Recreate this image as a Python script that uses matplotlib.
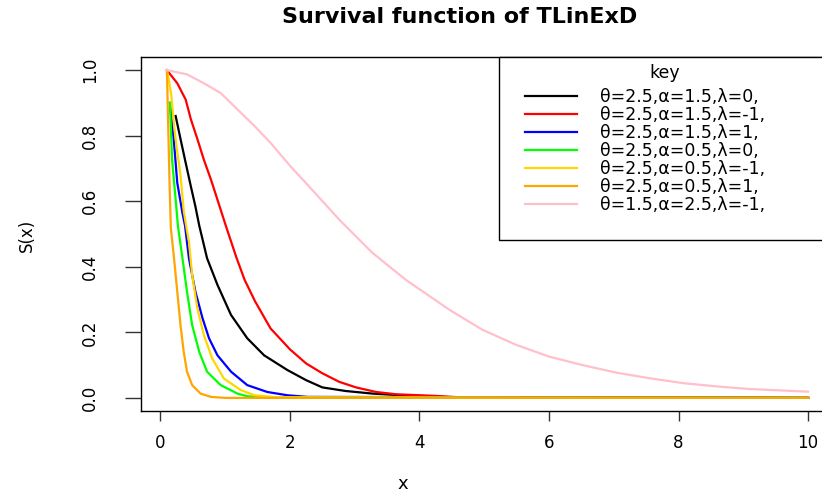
"""
Survival function of TLinExD - seven parameter combinations.
"""

import matplotlib
matplotlib.use("Agg")
import matplotlib.pyplot as plt
from matplotlib.patches import Rectangle

# ── Data ─────────────────────────────────────────────────────────────────────
labels = [
    "θ=2.5,α=1.5,λ=0,",
    "θ=2.5,α=1.5,λ=-1,",
    "θ=2.5,α=1.5,λ=1,",
    "θ=2.5,α=0.5,λ=0,",
    "θ=2.5,α=0.5,λ=-1,",
    "θ=2.5,α=0.5,λ=1,",
    "θ=1.5,α=2.5,λ=-1,",
]
colors = ["black", "red", "blue", "#00FF00", "#FFD700", "#FFA500", "#FFC0CB"]

x_black = [0.235, 0.31, 0.39, 0.47, 0.54, 0.6, 0.72, 0.88, 1.09, 1.34, 1.6, 1.96,
           2.25, 2.5, 2.86, 3.28, 3.9, 4.5, 10]
s_black = [0.86, 0.79, 0.717, 0.645, 0.584, 0.525, 0.426, 0.345, 0.253, 0.182, 0.13, 0.085,
           0.054, 0.032, 0.021, 0.013, 0.006, 0.002, 0]

x_red = [0.1, 0.26, 0.39, 0.47, 0.57, 0.67, 0.78, 0.88, 1.01, 1.17, 1.3, 1.46, 1.7,
         2.0, 2.25, 2.5, 2.76, 3.02, 3.33, 3.64, 4.26, 4.6, 10]
s_red = [1.0, 0.96, 0.91, 0.85, 0.79, 0.727, 0.666, 0.605, 0.525, 0.43, 0.36, 0.295, 0.212,
         0.148, 0.105, 0.075, 0.049, 0.032, 0.018, 0.011, 0.006, 0.002, 0]

x_blue = [0.147, 0.21, 0.26, 0.34, 0.38, 0.44, 0.54, 0.65, 0.75, 0.88, 1.09, 1.34,
          1.65, 1.96, 2.27, 10]
s_blue = [0.9, 0.778, 0.656, 0.564, 0.525, 0.426, 0.324, 0.243, 0.182, 0.13, 0.08, 0.039,
          0.018, 0.008, 0.003, 0]

x_green = [0.147, 0.18, 0.235, 0.27, 0.34, 0.41, 0.49, 0.6, 0.72, 0.93, 1.19, 1.34, 1.7, 10]
s_green = [0.9, 0.727, 0.605, 0.525, 0.426, 0.324, 0.222, 0.14, 0.08, 0.039, 0.013, 0.005,
           0.001, 0]

x_yellow = [0.1, 0.13, 0.17, 0.21, 0.26, 0.31, 0.36, 0.41, 0.44, 0.49, 0.57, 0.67, 0.8,
            0.98, 1.24, 1.45, 1.8, 10]
s_yellow = [1.0, 0.97, 0.92, 0.83, 0.75, 0.68, 0.57, 0.51, 0.477, 0.375, 0.273, 0.192, 0.12,
            0.059, 0.024, 0.008, 0.002, 0]

x_orange = [0.1, 0.12, 0.14, 0.16, 0.21, 0.26, 0.31, 0.36, 0.41, 0.49, 0.62, 0.78, 1.0, 10]
s_orange = [1.0, 0.83, 0.66, 0.52, 0.426, 0.324, 0.222, 0.14, 0.08, 0.039, 0.013, 0.003,
            0.0, 0]

x_pink = [0.1, 0.41, 0.67, 0.93, 1.19, 1.45, 1.7, 2.01, 2.24, 2.76, 3.27, 3.79, 4.46,
          4.97, 5.49, 6.0, 6.52, 7.04, 7.55, 8.07, 8.59, 9.1, 10]
s_pink = [1.0, 0.987, 0.96, 0.93, 0.88, 0.83, 0.778, 0.706, 0.657, 0.544, 0.443, 0.36, 0.269,
          0.208, 0.162, 0.126, 0.10, 0.077, 0.06, 0.045, 0.035, 0.027, 0.019]

xs = [x_black, x_red, x_blue, x_green, x_yellow, x_orange, x_pink]
ss = [s_black, s_red, s_blue, s_green, s_yellow, s_orange, s_pink]

x_ticks = [0, 2, 4, 6, 8, 10]
y_ticks = [0.0, 0.2, 0.4, 0.6, 0.8, 1.0]

# ── Figure ───────────────────────────────────────────────────────────────────
plt.rcParams["font.family"] = "DejaVu Sans"
fig = plt.figure(figsize=(8.22, 4.94), dpi=100)
# axes box runs past the right edge, as in the reference
ax = fig.add_axes([141 / 822, 1 - 411 / 494, 693 / 822, 354 / 494])

for x, s, c, lab in zip(xs, ss, colors, labels):
    ax.plot(x, s, color=c, linewidth=1.6, label=lab, zorder=2)

ax.set_xlim(-0.3, 10.4)
ax.set_ylim(-0.04, 1.04)
ax.set_xticks(x_ticks)
ax.set_xticklabels([str(t) for t in x_ticks])
ax.set_yticks(y_ticks)
ax.set_yticklabels([f"{t:.1f}" for t in y_ticks])

for sp in ax.spines.values():
    sp.set_color("black")
    sp.set_linewidth(1.0)

ax.tick_params(axis="x", direction="out", length=7.2, width=1.0,
               color="#333333", labelsize=12, pad=9)
ax.tick_params(axis="y", direction="out", length=11.5, width=1.0,
               color="#333333", labelsize=12, pad=19, labelrotation=90)
for lab in ax.get_yticklabels():
    lab.set_va("center")

ax.set_xlabel("x", fontsize=13, va="center")
ax.xaxis.set_label_coords((403 - 141) / 693, (411 - 484) / 354)
ax.set_ylabel("S(x)", fontsize=12, va="center")
ax.yaxis.set_label_coords((27 - 141) / 693, (411 - 235) / 354)

fig.suptitle("Survival function of TLinExD", x=460 / 822, y=1 - 17 / 494,
             va="center", fontsize=16, fontweight="bold")

# ── Legend (R-style box in the top-right corner) ─────────────────────────────
box_x0 = (499 - 141) / 693
box_y0 = (411 - 240) / 354
ax.add_patch(Rectangle((box_x0, box_y0), 1 - box_x0, 1 - box_y0,
                       transform=ax.transAxes, facecolor="white",
                       edgecolor="black", linewidth=1.0, clip_on=False, zorder=4))
ax.text((665 - 141) / 693, (411 - 72.7) / 354, "key", transform=ax.transAxes,
        ha="center", va="center", fontsize=12.5, zorder=6)
leg = ax.legend(loc="upper left",
                bbox_to_anchor=((525 - 141) / 693, (411 - 88.2) / 354),
                borderaxespad=0, borderpad=0, frameon=False,
                fontsize=12.5, handlelength=3.0, handletextpad=1.33,
                labelspacing=0.0)
leg.set_zorder(5)

fig.savefig("out.png", dpi=100)
